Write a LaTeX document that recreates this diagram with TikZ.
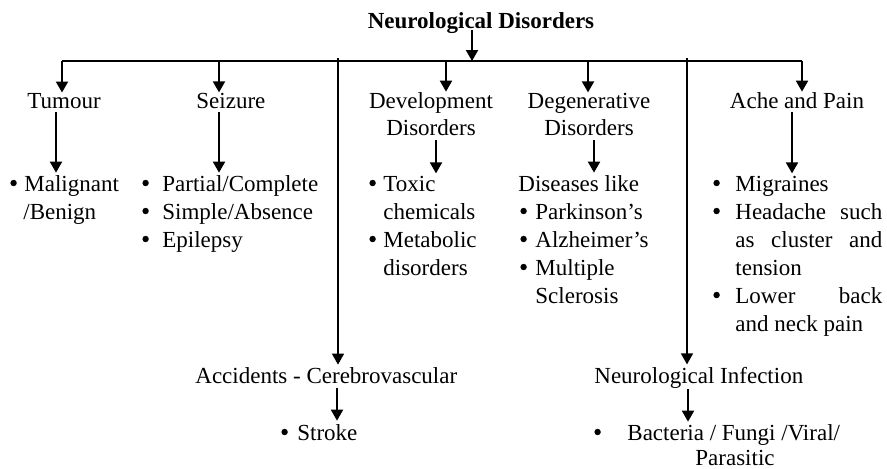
\documentclass[tikz,border=0pt]{standalone}
\usepackage{fontspec}
\setmainfont{Liberation Serif}
\usetikzlibrary{arrows.meta}
% round bullet dot, followed by a gap so the text starts at the box edge
\newcommand{\dotb}{\tikz[baseline=0pt]\fill (0,4pt) circle (1.6pt);}
\newcommand{\bp}[1]{\makebox[#1][l]{\dotb}}
\begin{document}
\begin{tikzpicture}[x=0.5pt,y=-0.5pt,
  txt/.style={inner sep=0pt, anchor=base west, font=\fontsize{11.5}{14}\selectfont},
  ctr/.style={txt, anchor=base},
  tip/.style={-{Triangle[width=6pt,length=5.5pt]}},
  arr/.style={line width=1pt, tip},
  busline/.style={line width=1pt},
  longarr/.style={line width=0.7pt, tip}]
\useasboundingbox (0,0) rectangle (887,468);

% title
\node[ctr] (title) at (481,28) {\bfseries Neurological Disorders};

% first level
\node[txt] (tumour)  at (27,108)  {Tumour};
\node[txt] (seizure) at (196,108) {Seizure};
\node[ctr] (dev1)    at (431,108) {Development};
\node[ctr] (dev2)    at (431,135) {Disorders};
\node[ctr] (deg1)    at (589,108) {Degenerative};
\node[ctr] (deg2)    at (589,135) {Disorders};
\node[ctr] (ache)    at (797,108) {Ache and Pain};

% tumour
\node[txt] (mal) at (10,191) {\bp{7pt}Malignant};
\node[txt] (ben) at (23,219) {/Benign};
% seizure
\node[txt] (par) at (142,191) {\bp{10pt}Partial/Complete};
\node[txt] (sim) at (142,219) {\bp{10pt}Simple/Absence};
\node[txt] (epi) at (142,247) {\bp{10pt}Epilepsy};
% development disorders
\node[txt] (tox)  at (369,191) {\bp{7pt}Toxic};
\node[txt] (chem) at (383,219) {chemicals};
\node[txt] (met)  at (369,247) {\bp{7pt}Metabolic};
\node[txt] (dis)  at (383,275) {disorders};
% degenerative disorders
\node[txt] (like) at (518,191) {Diseases like};
\node[txt] (park) at (520,219) {\bp{7.5pt}Parkinson’s};
\node[txt] (alz)  at (520,247) {\bp{7.5pt}Alzheimer’s};
\node[txt] (mult) at (520,275) {\bp{7.5pt}Multiple};
\node[txt] (scl)  at (535,303) {Sclerosis};
% ache and pain
\node[txt] (mig)  at (713,191) {\bp{11pt}Migraines};
\node[txt] (head) at (713,219) {\bp{11pt}\makebox[73.5pt][s]{Headache such}};
\node[txt] (clu)  at (735,247) {\makebox[73.5pt][s]{as cluster and}};
\node[txt] (ten)  at (735,275) {tension};
\node[txt] (low)  at (713,303) {\bp{11pt}\makebox[73.5pt][s]{Lower back}};
\node[txt] (neck) at (735,331) {and neck pain};

% lower branches
\node[txt] (acc)  at (195,383) {Accidents - Cerebrovascular};
\node[txt] (str)  at (281,440) {\bp{8pt}Stroke};
\node[txt] (inf)  at (594,383) {Neurological Infection};
\node[txt] (bac)  at (594,440) {\bp{16.5pt}Bacteria / Fungi /Viral/};
\node[ctr] (para) at (735,465) {Parasitic};

% bus junctions
\coordinate (b1) at (62,61);
\coordinate (b2) at (219,61);
\coordinate (b3) at (338,58);
\coordinate (b4) at (446,61);
\coordinate (b5) at (472,61);
\coordinate (b6) at (588,61);
\coordinate (b7) at (687,58);
\coordinate (b8) at (802,61);
% columns of the second-level arrows
\coordinate (x1) at (56,0);
\coordinate (x2) at (219,0);
\coordinate (x3) at (436,0);
\coordinate (x4) at (594,0);
\coordinate (x5) at (792,0);
\coordinate (x6) at (337,0);
\coordinate (x7) at (688,0);

% bus and title arrow
\draw[busline] (b1) -- (b8);
\draw[arr, shorten <=1pt] (b5 |- title.base) -- (b5);

% drops to first level
\draw[arr] (b1) -- (b1 |- tumour.north);
\draw[arr] (b2) -- (b2 |- seizure.north);
\draw[arr] (b4) -- (b4 |- dev1.north);
\draw[arr] (b6) -- (b6 |- deg1.north);
\draw[arr] (b8) -- (b8 |- ache.north);

% long branches
\draw[longarr, shorten >=1pt] (b3) -- (b3 |- acc.north);
\draw[longarr, shorten >=1pt] (b7) -- (b7 |- inf.north);

% second level arrows
\draw[arr, shorten <=2pt, shorten >=1pt] (x1 |- tumour.base) -- (x1 |- mal.north);
\draw[arr, shorten <=2pt, shorten >=1pt] (x2 |- seizure.base) -- (x2 |- par.north);
\draw[arr, shorten <=2.5pt, shorten >=1pt] (x3 |- dev2.base) -- (x3 |- tox.north);
\draw[arr, shorten <=2.5pt, shorten >=1pt] (x4 |- deg2.base) -- (x4 |- like.north);
\draw[arr, shorten <=2pt, shorten >=1pt] (x5 |- ache.base) -- (x5 |- mig.north);
\draw[arr, shorten <=2.5pt, shorten >=1.5pt] (x6 |- acc.base) -- (x6 |- str.north);
\draw[arr, shorten <=3pt, shorten >=1pt] (x7 |- inf.base) -- (x7 |- bac.north);
\end{tikzpicture}
\end{document}
